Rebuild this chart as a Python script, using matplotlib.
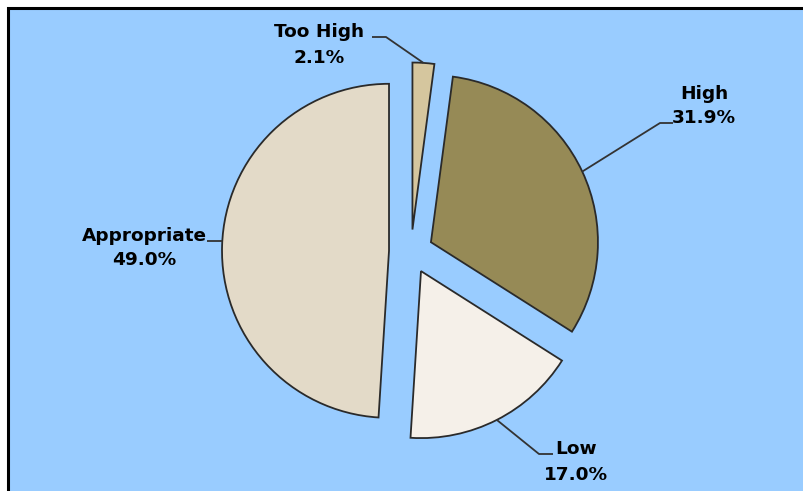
import numpy as np
import matplotlib
matplotlib.use("Agg")
import matplotlib.pyplot as plt
from matplotlib.patches import Rectangle

# ---- data ----
categories = ["Too High", "High", "Low", "Appropriate"]
percent = [2.1, 31.9, 17.0, 49.0]
pct_labels = ["2.1%", "31.9%", "17.0%", "49.0%"]
colors = ["#D5C69E", "#968A56", "#F5F0E9", "#E3DAC8"]

W, H = 804, 491
fig = plt.figure(figsize=(W / 100, H / 100), dpi=100, facecolor="white")
ax = fig.add_axes([0, 0, 1, 1])
ax.set_axis_off()

# background panel with black left/top border
bg = Rectangle((8.5, -20), W + 40, (H - 8) + 20, facecolor="#99CCFF",
               edgecolor="black", linewidth=2.2, zorder=0)
ax.add_patch(bg)

R = 167
center = (411, H - 251.5)
# matplotlib's explode offset is in data units (pixels here)
wedges, _ = ax.pie(percent, colors=colors, startangle=90, counterclock=False,
                   explode=[22] * len(percent), radius=R, center=center,
                   wedgeprops=dict(edgecolor="#2a2a2a", linewidth=1.3),
                   frame=True)
ax.set_xlim(0, W)
ax.set_ylim(0, H)
ax.set_aspect("auto")
ax.set_axis_off()

# label layout (image pixel coords): center x, baseline y1, y2, elbow from, elbow to
layout = {
    "Too High":    dict(x=319, y1=37, y2=63, elbow=((372, 37), (386, 37)), flat=False),
    "High":        dict(x=704, y1=99, y2=123, elbow=((673, 123), (660, 123)), flat=False),
    "Low":         dict(x=576, y1=454, y2=480, elbow=((553, 454), (539, 454)), flat=False),
    "Appropriate": dict(x=144, y1=241, y2=265, elbow=((207, 241), (207, 241)), flat=True),
}

font = dict(family="DejaVu Sans", fontweight="bold", fontsize=13.3, color="black")
for w, name, pl in zip(wedges, categories, pct_labels):
    L = layout[name]
    ax.text(L["x"], H - L["y1"], name, ha="center", va="baseline", **font)
    ax.text(L["x"], H - L["y2"], pl, ha="center", va="baseline", **font)
    cx, cy = w.center
    (ax0, ay0), (ax1, ay1) = L["elbow"]
    if L["flat"]:
        # horizontal leader meeting the arc at the same height
        dy = (H - ay1) - cy
        px = cx - np.sqrt(w.r ** 2 - dy ** 2)
        py = H - ay1
    else:
        # attach point at the middle of the wedge's arc
        ang = np.deg2rad((w.theta1 + w.theta2) / 2)
        px, py = cx + w.r * np.cos(ang), cy + w.r * np.sin(ang)
    ax.plot([ax0, ax1, px], [H - ay0, H - ay1, py], color="#333333",
            linewidth=1.3, solid_capstyle="butt", zorder=5)

fig.savefig("out.png", dpi=100, facecolor="white")
